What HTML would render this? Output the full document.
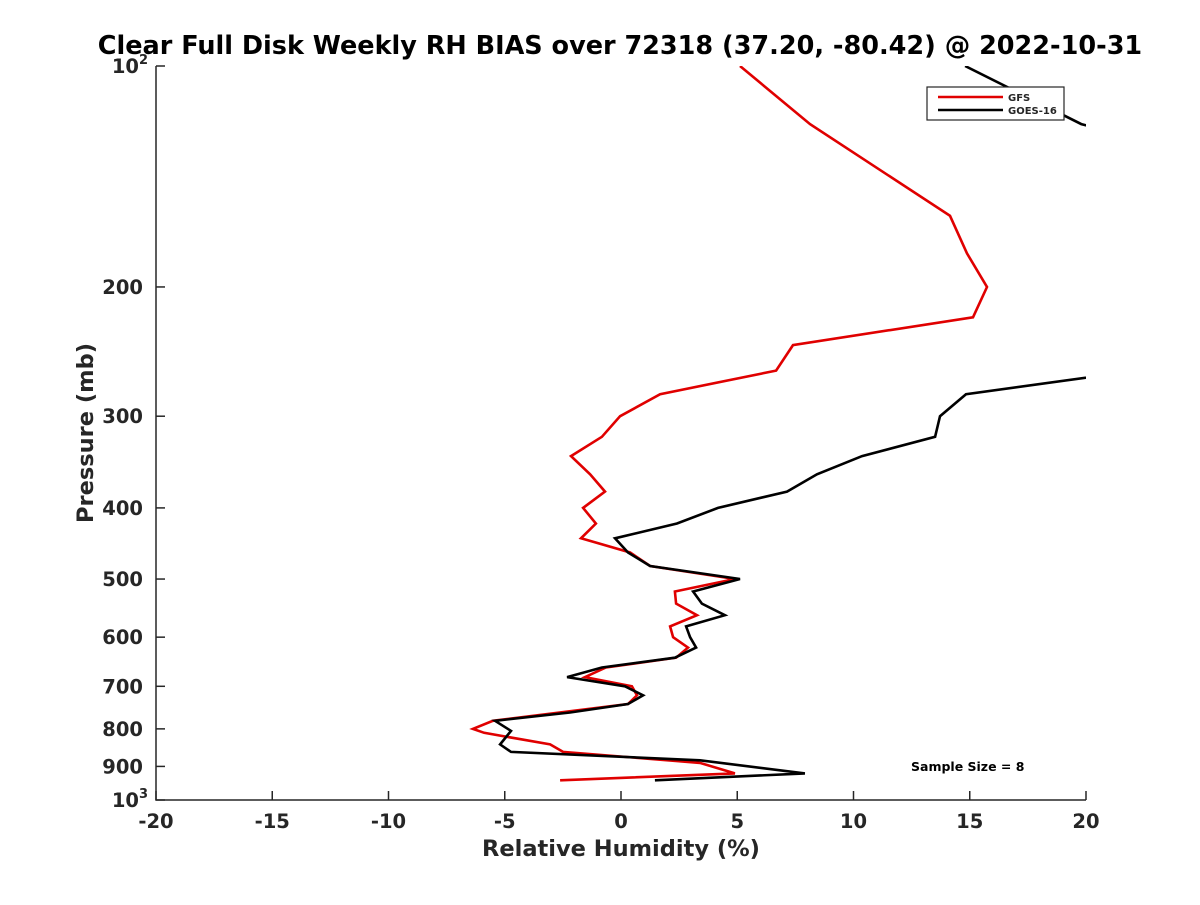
<!DOCTYPE html>
<html><head><meta charset="utf-8"><style>
body{margin:0;background:#fff;font-family:"Liberation Sans","DejaVu Sans",sans-serif;}
svg text{font-family:"DejaVu Sans","Liberation Sans",sans-serif;font-weight:bold;fill:#262626;}
</style></head><body>
<svg id="chart" width="1200" height="900" viewBox="0 0 1200 900" xmlns="http://www.w3.org/2000/svg">
<rect width="1200" height="900" fill="#fff"/>
<defs><clipPath id="plotclip"><rect x="156" y="66" width="930" height="734"/></clipPath></defs>
<text x="620" y="54" text-anchor="middle" font-size="25.5" style="fill:#000">Clear Full Disk Weekly RH BIAS over 72318 (37.20, -80.42) @ 2022-10-31</text>
<g id="axes"></g>
<g id="series" clip-path="url(#plotclip)"></g>
<g>
<rect x="927" y="87" width="137" height="33" fill="#fff" stroke="#262626" stroke-width="1.2"/>
<line x1="938" y1="97" x2="1003" y2="97" stroke="#e00000" stroke-width="2.5"/>
<text x="1008" y="101" font-size="10">GFS</text>
<line x1="938" y1="110" x2="1003" y2="110" stroke="#000" stroke-width="2.5"/>
<text x="1008" y="114" font-size="10">GOES-16</text>
</g>
<text x="911" y="771" font-size="12.5" style="fill:#000">Sample Size = 8</text>
<text x="621" y="856" text-anchor="middle" font-size="22.5">Relative Humidity (%)</text>
<text transform="translate(93,433) rotate(-90)" text-anchor="middle" font-size="22.5">Pressure (mb)</text>
</svg>
<script>
const xTicks=[-20,-15,-10,-5,0,5,10,15,20];
const yTicks=[100,200,300,400,500,600,700,800,900,1000];
const gfsPressure=[100,120,160,180,200,220,240,260,280,300,320,340,360,380,400,420,440,460,480,500,520,540,560,580,600,620,640,660,680,700,720,740,780,800,810,840,860,890,920,940];
const gfsValues=[5.12,8.13,14.15,14.88,15.74,15.14,7.40,6.67,1.68,-0.04,-0.82,-2.15,-1.33,-0.69,-1.63,-1.08,-1.72,0.39,1.25,4.90,2.32,2.37,3.27,2.11,2.24,2.88,2.37,-0.65,-1.55,0.47,0.69,0.30,-5.51,-6.37,-5.89,-3.05,-2.49,3.40,4.90,-2.62];
const goesPressure=[100,120,140,160,200,240,260,280,300,320,340,360,380,400,420,440,460,480,500,520,540,560,580,600,620,640,660,680,700,720,740,760,780,805,840,860,883,920,940];
const goesValues=[14.8,19.8,28,30,30,28,22.2,14.84,13.72,13.51,10.37,8.43,7.14,4.17,2.41,-0.26,0.30,1.25,5.12,3.10,3.48,4.47,2.80,2.97,3.23,2.32,-0.82,-2.32,0.17,0.95,0.30,-2.19,-5.42,-4.73,-5.2,-4.73,3.40,7.91,1.46];
const NS='http://www.w3.org/2000/svg';
const X0=156,X1=1086,Y0=66,Y1=800;
function xs(v){return X0+(v+20)/40*(X1-X0);}
function ys(p){return Y0+(Math.log10(p)-2)*(Y1-Y0);}
function mk(t,a){const e=document.createElementNS(NS,t);for(const k in a)e.setAttribute(k,a[k]);return e;}
const axes=document.getElementById('axes');
const ax=mk('path',{d:`M${X0},${Y0}V${Y1}H${X1}`,fill:'none',stroke:'#262626','stroke-width':1.5});


axes.appendChild(ax);
xTicks.forEach(v=>{
  const x=xs(v);
  const t=mk('line',{x1:x,x2:x,y1:Y1,y2:Y1-9,stroke:'#262626','stroke-width':1.5});
  
  
  axes.appendChild(t);
  const l=mk('text',{x:x,y:828,'text-anchor':'middle','font-size':19.5});
  
  
  l.textContent=String(v);
  axes.appendChild(l);
});
yTicks.forEach(p=>{
  const y=ys(p);
  const t=mk('line',{x1:X0,x2:X0+9,y1:y,y2:y,stroke:'#262626','stroke-width':1.5});
  
  
  axes.appendChild(t);
  const l=mk('text',{x:143,y:y+7,'text-anchor':'end','font-size':19.5});
  
  
  if(p===100||p===1000){
    l.textContent='10';
    const s=mk('tspan',{dy:-9,'font-size':13});
    s.textContent=p===100?'2':'3';
    l.appendChild(s);
    l.setAttribute('x',148);
  } else l.textContent=String(p);
  axes.appendChild(l);
});
const series=document.getElementById('series');
function line(P,V,color,name){
  const d=P.map((p,i)=>(i?'L':'M')+xs(V[i]).toFixed(1)+','+ys(p).toFixed(1)).join('');
  const e=mk('path',{d:d,fill:'none',stroke:color,'stroke-width':2.6,'stroke-linejoin':'miter'});
  
  
  series.appendChild(e);
}
line(gfsPressure,gfsValues,'#e00000','gfs-line');
line(goesPressure,goesValues,'#000000','goes16-line');
</script>
</body></html>
